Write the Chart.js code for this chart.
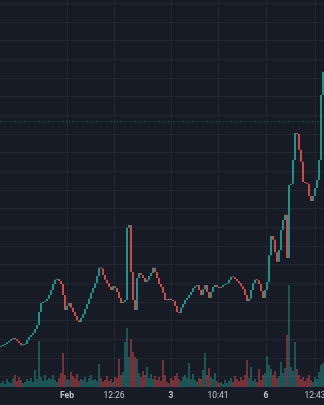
<!DOCTYPE html>
<html>
<head>
<meta charset="utf-8">
<script src="https://cdn.jsdelivr.net/npm/chart.js@4"></script>
<style>
  html, body { margin: 0; padding: 0; background: #171b26; }
  canvas { display: block; }
</style>
</head>
<body>
<canvas id="chart" width="324" height="405"></canvas>
<script>
// close of each candle (open = previous close)
const firstOpen = 1.080;
const closes = [
  1.083, 1.085, 1.088, 1.093, 1.096, 1.101, 1.104, 1.101, 1.096, 1.091,
  1.085, 1.086, 1.088, 1.099, 1.107, 1.112, 1.118, 1.128, 1.139, 1.174,
  1.198, 1.201, 1.203, 1.209, 1.219, 1.233, 1.249, 1.260, 1.262, 1.257,
  1.249, 1.219, 1.179, 1.190, 1.198, 1.185, 1.174, 1.163, 1.152, 1.147,
  1.158, 1.168, 1.182, 1.195, 1.209, 1.225, 1.238, 1.251, 1.270, 1.292,
  1.290, 1.273, 1.260, 1.251, 1.241, 1.233, 1.243, 1.238, 1.227, 1.211,
  1.198, 1.201, 1.206, 1.399, 1.407, 1.281, 1.206, 1.179, 1.265, 1.278,
  1.273, 1.265, 1.254, 1.260, 1.270, 1.278, 1.292, 1.281, 1.265, 1.249,
  1.241, 1.225, 1.206, 1.205, 1.209, 1.206, 1.203, 1.190, 1.174, 1.171,
  1.185, 1.195, 1.206, 1.211, 1.219, 1.227, 1.238, 1.243, 1.246, 1.233,
  1.219, 1.235, 1.246, 1.227, 1.211, 1.227, 1.241, 1.246, 1.241, 1.238,
  1.241, 1.246, 1.249, 1.251, 1.260, 1.268, 1.267, 1.262, 1.257, 1.251,
  1.243, 1.235, 1.219, 1.203, 1.209, 1.233, 1.251, 1.260, 1.259, 1.249,
  1.230, 1.211, 1.233, 1.254, 1.326, 1.377, 1.367, 1.334, 1.308, 1.340,
  1.393, 1.420, 1.434, 1.318, 1.514, 1.517, 1.581, 1.653, 1.650, 1.608,
  1.576, 1.522, 1.519, 1.517, 1.484, 1.471, 1.484, 1.506, 1.527, 1.581,
  1.755, 1.817
];
const volumes = [
  40, 60, 30, 80, 50, 40, 90, 120, 60, 100,
  70, 40, 50, 80, 60, 90, 50, 170, 80, 460,
  100, 60, 120, 70, 90, 80, 120, 70, 50, 90,
  140, 340, 120, 80, 70, 150, 110, 90, 130, 60,
  80, 70, 100, 50, 90, 120, 70, 80, 60, 230,
  90, 50, 70, 110, 60, 80, 50, 100, 90, 280,
  120, 150, 450, 590, 300, 480, 350, 300, 280, 140,
  100, 160, 120, 200, 90, 130, 80, 110, 70, 100,
  60, 270, 120, 50, 40, 90, 70, 110, 140, 80,
  60, 100, 120, 90, 240, 80, 130, 70, 50, 90,
  80, 170, 340, 120, 190, 100, 80, 140, 60, 40,
  50, 30, 70, 40, 60, 90, 50, 110, 80, 60,
  100, 70, 120, 270, 90, 200, 60, 80, 50, 180,
  70, 120, 140, 310, 220, 180, 120, 160, 90, 110,
  250, 140, 190, 520, 1020, 200, 160, 450, 180, 120,
  80, 100, 60, 90, 120, 70, 50, 100, 80, 150,
  220, 240
];
const lastLine = 1.683;
const tickPos = [33, 56.5, 85, 108.5, 132.5, 157];
const tickLabels = ['Feb', '12:26', '3', '10:41', '6', '12:43'];
const boldLabels = ['Feb', '3', '6'];
const priceGrid = [1.00, 1.05, 1.10, 1.15, 1.20, 1.25, 1.30, 1.35, 1.40, 1.45, 1.50,
  1.55, 1.60, 1.65, 1.70, 1.75, 1.80, 1.85, 1.90, 1.95, 2.00];

const up = '#26a69a';
const down = '#ef5350';
const upVol = 'rgba(38,166,154,0.5)';
const downVol = 'rgba(239,83,80,0.5)';
const gridColor = 'rgba(42,46,57,0.55)';

const opens = closes.map((c, i) => i === 0 ? firstOpen : closes[i - 1]);
const isUp = closes.map((c, i) => c >= opens[i]);

new Chart(document.getElementById('chart'), {
  type: 'bar',
  data: {
    datasets: [{
      label: 'candles',
      data: closes.map((c, i) => ({ x: i, y: [opens[i], c] })),
      backgroundColor: isUp.map(u => u ? up : down),
      yAxisID: 'y',
      grouped: false,
      barPercentage: 1,
      categoryPercentage: 0.85,
      minBarLength: 1,
      order: 0
    }, {
      label: 'volume',
      data: volumes.map((v, i) => ({ x: i, y: v })),
      backgroundColor: isUp.map(u => u ? upVol : downVol),
      yAxisID: 'yv',
      grouped: false,
      barPercentage: 1,
      categoryPercentage: 0.85,
      order: 1
    }, {
      type: 'line',
      label: 'last',
      data: [{ x: -0.5, y: lastLine }, { x: 161.5, y: lastLine }],
      borderColor: 'rgba(38,166,154,0.55)',
      borderWidth: 1,
      borderDash: [1, 2],
      pointRadius: 0,
      yAxisID: 'y',
      order: 2
    }]
  },
  options: {
    responsive: false,
    animation: false,
    layout: { padding: 0 },
    plugins: {
      legend: { display: false },
      tooltip: { enabled: false }
    },
    scales: {
      x: {
        type: 'linear',
        offset: false,
        min: -0.5,
        max: 161.5,
        afterBuildTicks: scale => { scale.ticks = tickPos.map(v => ({ value: v })); },
        afterFit: scale => { scale.paddingLeft = 0; scale.paddingRight = 0; scale.height = 18; },
        ticks: {
          autoSkip: false,
          maxRotation: 0,
          padding: 4,
          color: '#c3c6ce',
          font: c => ({ family: 'Roboto', size: 8.5, weight: boldLabels.includes(tickLabels[c.index]) ? 'bold' : 'normal' }),
          callback: (v, i) => tickLabels[i]
        },
        grid: { color: gridColor, drawTicks: false, offset: false },
        border: { display: false }
      },
      y: {
        position: 'right',
        min: 0.973,
        max: 2.009,
        afterBuildTicks: scale => { scale.ticks = priceGrid.map(v => ({ value: v })); },
        afterFit: scale => { scale.width = 0; },
        ticks: { display: false },
        grid: { color: gridColor, drawTicks: false },
        border: { display: false }
      },
      yv: {
        display: false,
        min: 0,
        max: 3870
      }
    }
  }
});
</script>
</body>
</html>
